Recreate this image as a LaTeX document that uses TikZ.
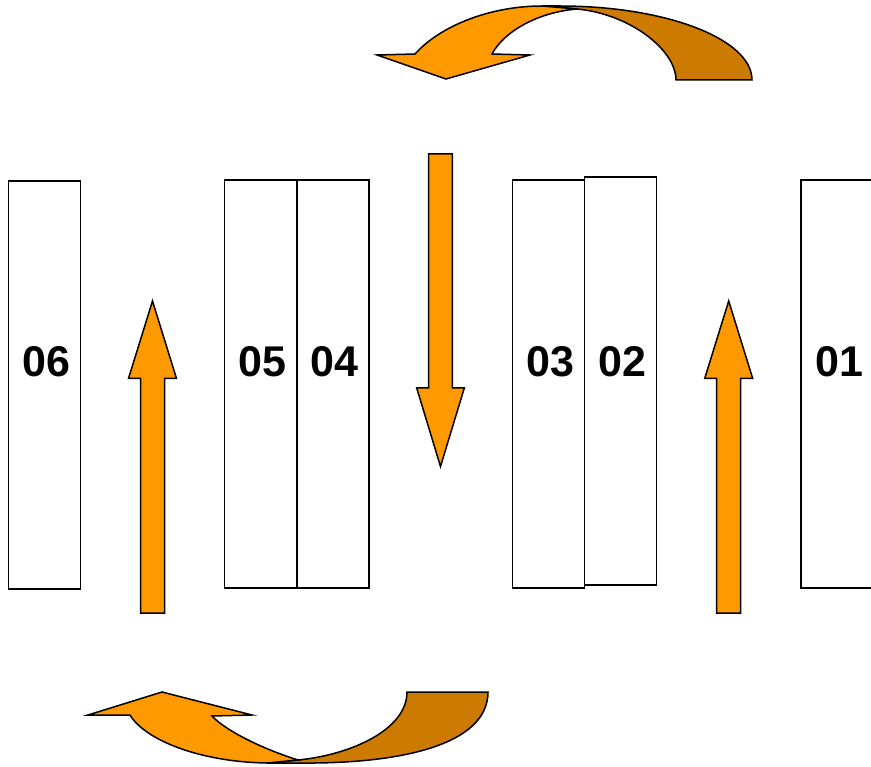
\documentclass[tikz,border=0pt]{standalone}
\usepackage{fontspec}
\setmainfont{Liberation Sans}
\definecolor{orng}{RGB}{255,153,0}
\definecolor{dorng}{RGB}{204,122,0}
\tikzset{
	box/.style={draw, line width=1.5pt, fill=white, minimum width=72pt, minimum height=408pt, inner sep=0pt},
	num/.style={font=\fontsize{43}{50}\selectfont\bfseries, inner sep=0pt, xshift=2pt},
	lo/.style={fill=orng, draw=black, line width=1.5pt, line join=miter},
	dk/.style={fill=dorng, draw=black, line width=1.5pt},
}
\begin{document}
\begin{tikzpicture}[x=1pt, y=-1pt]
	\useasboundingbox (0,0) rectangle (871,767);

	% blocks
	\node[box] (r06) at (44.4,385) {};
	\node[box] (r05) at (260.6,384) {};
	\node[box] (r04) at (332.8,384) {};
	\node[box] (r03) at (548.6,384) {};
	\node[box] (r02) at (620.5,381) {};
	\node[box] (r01) at (837,384) {};

	\coordinate (row) at (0,362);
	\foreach \n in {06,05,04,03,02,01}
		\node[num] (t\n) at (r\n |- row) {\n};

	% straight arrows
	\foreach \x in {152.5,728.7}
		\draw [lo] (\x-12,613) -- (\x-12,378.5) -- (\x-24,378.5) -- (\x,301) -- (\x+24,378.5) -- (\x+12,378.5) -- (\x+12,613) -- cycle;
	\draw [lo] (428.7,154) -- (452.3,154) -- (452.3,388) -- (464.3,388) -- (440.5,466.5) -- (416.7,388) -- (428.7,388) -- cycle;

	% top curved arrow
	\draw [dk] (752,80) .. controls (752,39) and (666,6) .. (560,6) -- (542,6) -- (577,9) .. controls (630,14) and (676,50) .. (676,80) -- cycle;
	\draw [lo] (577,9) -- (542,6) .. controls (490,6) and (440,26) .. (415,54) -- (377,55) -- (446,79) -- (530,55) -- (492,54) .. controls (505,30) and (540,12) .. (577,9) -- cycle;

	% bottom curved arrow
	\draw [dk] (488,692) .. controls (488,745) and (400,764) .. (300,763) -- (267,763) -- (298,760) .. controls (350,755) and (407,730) .. (407,692) -- cycle;
	\draw [lo] (298,760) -- (267,763) .. controls (200,762) and (145,740) .. (130,715) -- (88,715) -- (162,692) -- (252,715) -- (212,716) .. controls (225,730) and (260,748) .. (298,760) -- cycle;
\end{tikzpicture}
\end{document}
